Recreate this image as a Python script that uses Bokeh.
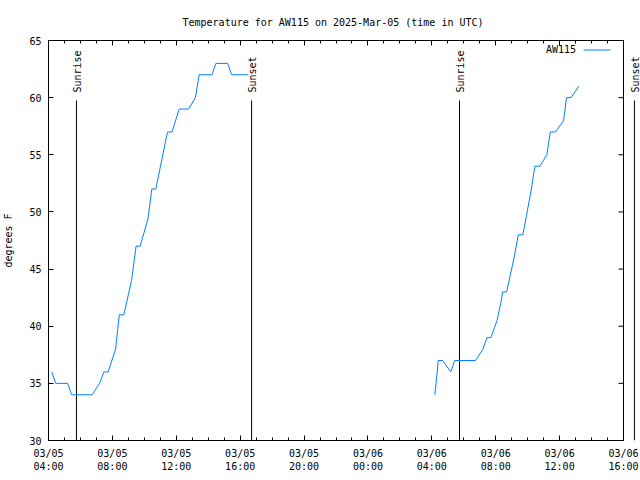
import numpy as np
import pandas as pd
from bokeh.plotting import figure
from bokeh.models import (Range1d, DatetimeAxis, FixedTicker, Span, Legend, LegendItem,
                          ColumnDataSource, DatetimeTickFormatter, Arrow)
from bokeh.embed import file_html
from bokeh.resources import INLINE
from bokeh.core.properties import value

FONT = "DejaVu Sans Mono"
LINE_COLOR = "#0080ff"

# ---- data ----
day1_times = ["2025-03-05 04:12", "2025-03-05 04:27", "2025-03-05 05:12", "2025-03-05 05:27",
              "2025-03-05 06:44", "2025-03-05 07:12", "2025-03-05 07:28", "2025-03-05 07:44",
              "2025-03-05 08:12", "2025-03-05 08:26", "2025-03-05 08:43", "2025-03-05 09:12",
              "2025-03-05 09:29", "2025-03-05 09:44", "2025-03-05 10:14", "2025-03-05 10:28",
              "2025-03-05 10:43", "2025-03-05 11:27", "2025-03-05 11:44", "2025-03-05 12:11",
              "2025-03-05 12:46", "2025-03-05 13:12", "2025-03-05 13:26", "2025-03-05 14:14",
              "2025-03-05 14:29", "2025-03-05 15:13", "2025-03-05 15:28", "2025-03-05 16:30"]
day1_temps = [36, 35, 35, 34, 34, 35, 36, 36, 38, 41, 41, 44, 47, 47, 49.4, 52, 52, 57, 57, 59,
              59, 60, 62, 62, 63, 63, 62, 62]

day2_times = ["2025-03-06 04:11", "2025-03-06 04:16", "2025-03-06 04:24", "2025-03-06 04:41",
              "2025-03-06 05:11", "2025-03-06 05:26", "2025-03-06 06:44", "2025-03-06 07:12",
              "2025-03-06 07:27", "2025-03-06 07:42", "2025-03-06 08:05", "2025-03-06 08:19",
              "2025-03-06 08:26", "2025-03-06 08:41", "2025-03-06 09:09", "2025-03-06 09:25",
              "2025-03-06 09:42", "2025-03-06 10:14", "2025-03-06 10:27", "2025-03-06 10:46",
              "2025-03-06 11:12", "2025-03-06 11:25", "2025-03-06 11:45", "2025-03-06 12:15",
              "2025-03-06 12:26", "2025-03-06 12:43", "2025-03-06 13:12"]
day2_temps = [34, 35, 37, 37, 36, 37, 37, 38, 39, 39, 40.5, 42, 43, 43, 46, 48, 48, 52, 54, 54,
              55, 57, 57, 58, 60, 60, 61]

sun_event_times = ["2025-03-05 05:45", "2025-03-05 16:43", "2025-03-06 05:44", "2025-03-06 16:41"]
sun_event_labels = ["Sunrise", "Sunset", "Sunrise", "Sunset"]

x_tick_times = ["2025-03-05 04:00", "2025-03-05 08:00", "2025-03-05 12:00", "2025-03-05 16:00",
                "2025-03-05 20:00", "2025-03-06 00:00", "2025-03-06 04:00", "2025-03-06 08:00",
                "2025-03-06 12:00", "2025-03-06 16:00"]
y_ticks = [30, 35, 40, 45, 50, 55, 60, 65]
y_min, y_max = 30, 65

title_text = "Temperature for AW115 on 2025-Mar-05 (time in UTC)"
y_label = "degrees F"
series_name = "AW115"


def ms(s):
    return pd.Timestamp(s).value / 1e6


HOUR = 3600 * 1000.0
x_start = ms(x_tick_times[0])
x_end = ms(x_tick_times[-1])

# layout: axis length 575 px, frame extended to the right edge so the last
# sunset marker (drawn past the axis end) stays visible
AXIS_PX = 575
FRAME_W = 593
range_end = x_start + (x_end - x_start) * FRAME_W / AXIS_PX

x_major = [ms(t) for t in x_tick_times]
x_minor = list(np.arange(x_start, x_end + 1, HOUR))

nan = float("nan")
xs = [ms(t) for t in day1_times] + [nan] + [ms(t) for t in day2_times]
ys = day1_temps + [nan] + day2_temps
src = ColumnDataSource(dict(x=xs, y=ys))

p = figure(frame_width=FRAME_W, frame_height=400,
           x_axis_type="datetime",
           x_range=Range1d(x_start, range_end), y_range=Range1d(y_min, y_max),
           output_backend="svg", toolbar_location=None,
           min_border_left=47, min_border_right=0, min_border_top=40, min_border_bottom=40)
p.outline_line_color = None
p.grid.visible = False
p.background_fill_color = "white"
p.border_fill_color = "white"

# title
p.title.text = title_text
p.title.text_font = FONT
p.title.text_font_size = "10px"
p.title.text_font_style = "normal"
p.title.text_color = "black"
p.title.align = "left"
p.title.offset = 134
p.title.standoff = 25

fmt = "%m/%d\n%H:%M"
formatter = DatetimeTickFormatter(milliseconds=fmt, seconds=fmt, minsec=fmt, minutes=fmt,
                                  hourmin=fmt, hours=fmt, days=fmt, months=fmt, years=fmt)
xticker = FixedTicker(ticks=x_major, minor_ticks=x_minor)

xa = p.xaxis[0]
xa.ticker = xticker
xa.formatter = formatter
xa.bounds = (x_start, x_end)
xa.major_tick_in = 5
xa.major_tick_out = 0
xa.minor_tick_in = 3
xa.minor_tick_out = 0
xa.axis_line_color = "black"
xa.major_tick_line_color = "black"
xa.minor_tick_line_color = "black"
xa.major_label_text_font = FONT
xa.major_label_text_font_size = "10px"
xa.major_label_text_color = "black"
xa.major_label_standoff = 7

# mirrored top border with ticks (no labels)
top = DatetimeAxis(ticker=xticker, formatter=formatter, bounds=(x_start, x_end),
                   major_tick_in=5, major_tick_out=0, minor_tick_in=3, minor_tick_out=0,
                   major_label_text_font_size="0px", major_label_text_color=None,
                   major_label_standoff=0,
                   axis_line_color="black", major_tick_line_color="black",
                   minor_tick_line_color="black")
p.add_layout(top, "above")

ya = p.yaxis[0]
ya.ticker = FixedTicker(ticks=y_ticks, minor_ticks=[])
ya.major_tick_in = 5
ya.major_tick_out = 0
ya.minor_tick_in = 0
ya.minor_tick_out = 0
ya.axis_line_color = "black"
ya.major_tick_line_color = "black"
ya.major_label_text_font = FONT
ya.major_label_text_font_size = "10px"
ya.major_label_text_color = "black"
ya.major_label_standoff = 7
ya.axis_label = y_label
ya.axis_label_text_font = FONT
ya.axis_label_text_font_size = "10px"
ya.axis_label_text_font_style = "normal"
ya.axis_label_text_color = "black"
ya.axis_label_standoff = 12

# right border and mirrored y ticks
p.add_layout(Span(location=x_end, dimension="height", line_color="black", line_width=1))
p.ray(x=[x_end] * len(y_ticks), y=y_ticks, length=5, length_units="screen", angle=np.pi,
      line_color="black", line_width=1)

# sunrise / sunset markers (up to 85% of plot height)
marker_top = y_min + 0.85 * (y_max - y_min)
sun_x = [ms(t) for t in sun_event_times]
p.segment(x0=sun_x, y0=[y_min] * len(sun_x), x1=sun_x, y1=[marker_top] * len(sun_x),
          line_color="black", line_width=1)
p.text(x=sun_x, y=[marker_top] * len(sun_x), text=sun_event_labels, angle=np.pi / 2,
       text_align="left", text_baseline="middle", y_offset=-8, x_offset=1,
       text_font=value(FONT), text_font_size="10px", text_color="black")

line_r = p.line("x", "y", source=src, line_color=LINE_COLOR, line_width=1)

# key: label on the left, line sample on the right (gnuplot style)
legend = Legend(items=[LegendItem(label=series_name, renderers=[line_r])],
                location=(498, 385), glyph_width=0, glyph_height=12, label_height=12,
                label_standoff=0, padding=0, margin=0, spacing=0,
                border_line_color=None, background_fill_alpha=0,
                label_text_font=FONT, label_text_font_size="10px", label_text_color="black")
p.add_layout(legend)
p.add_layout(Arrow(end=None, x_start=535, y_start=390.5, x_end=562, y_end=390.5,
                   start_units="screen", end_units="screen",
                   line_color=LINE_COLOR, line_width=1))

open("out.html", "w").write(file_html(p, INLINE))
